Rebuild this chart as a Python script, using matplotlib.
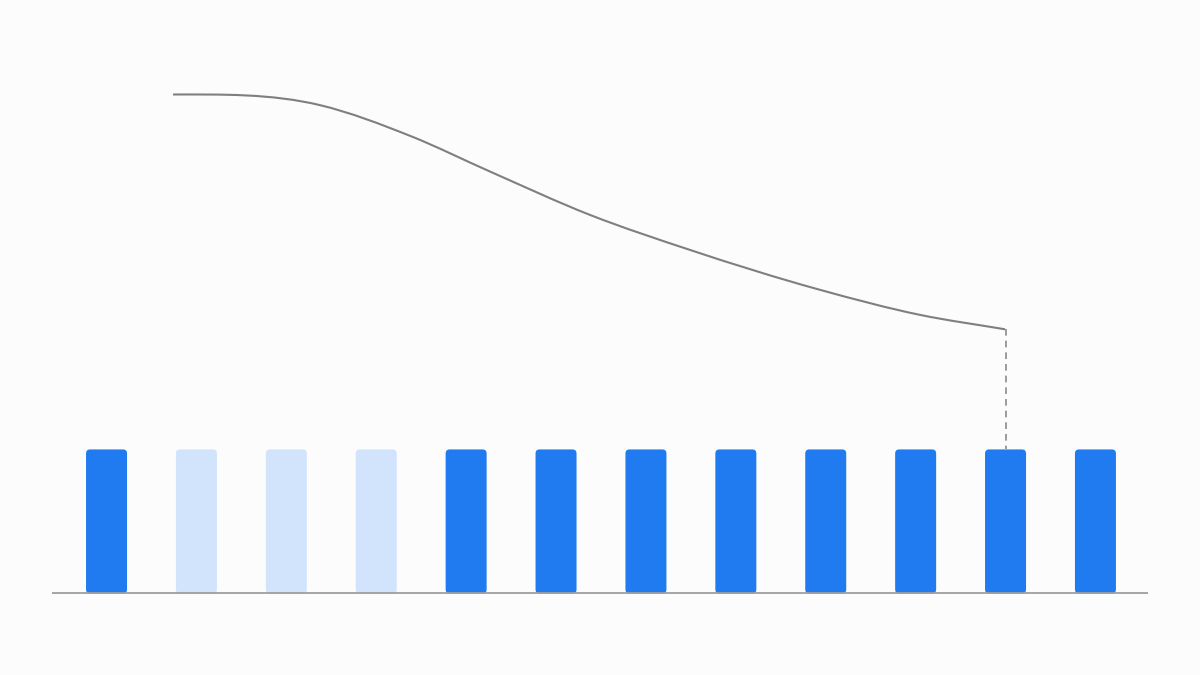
import matplotlib
matplotlib.use("Agg")
import numpy as np
import matplotlib.pyplot as plt
from matplotlib.patches import FancyBboxPatch, PathPatch
from matplotlib.path import Path

# 12 bars, same height; the three after the first are faded
bar_pos = list(range(12))
bar_height = [1.0] * 12
faded = [False, True, True, True, False, False, False, False, False, False, False, False]

# curve (x in bar-index units, y in bar-height units)
curve_x = [0.74, 2.375, 3.376, 4.266, 5.378, 6.49, 7.936, 9.049, 9.994]
curve_y = [3.464, 3.39, 3.177, 2.929, 2.628, 2.385, 2.108, 1.934, 1.834]
marker_bar = 10

blue = "#1F7BEF"
light = "#D2E3FC"
bg = "#FCFCFC"


def smooth_path(xs, ys):
    # cubic hermite through the points (drawn as beziers), flat at the start
    x = np.asarray(xs, float)
    y = np.asarray(ys, float)
    h = np.diff(x)
    s = np.diff(y) / h
    m = np.empty_like(x)
    m[0] = 0.0
    m[-1] = s[-1]
    m[1:-1] = (h[1:] * s[:-1] + h[:-1] * s[1:]) / (h[:-1] + h[1:])
    verts = [(x[0], y[0])]
    codes = [Path.MOVETO]
    for i in range(len(x) - 1):
        d = h[i] / 3
        verts += [(x[i] + d, y[i] + m[i] * d),
                  (x[i + 1] - d, y[i + 1] - m[i + 1] * d),
                  (x[i + 1], y[i + 1])]
        codes += [Path.CURVE4] * 3
    return Path(verts, codes)


fig = plt.figure(figsize=(12, 6.75), dpi=100, facecolor=bg)
ax = fig.add_axes([0, 0, 1, 1])
ax.set_facecolor(bg)
ax.set_xlim(-1.185, 12.163)
ax.set_ylim(-0.566, 4.12)
ax.axis("off")

bars = ax.bar(bar_pos, bar_height, width=0.456, color="none")
for b, f in zip(bars, faded):
    x, y = b.get_x(), b.get_y()
    w, h = b.get_width(), b.get_height()
    b.remove()
    p = FancyBboxPatch((x, y), w, h,
                       boxstyle="round,pad=0,rounding_size=0.045",
                       mutation_aspect=0.625,
                       facecolor=light if f else blue, edgecolor="none", zorder=2)
    ax.add_patch(p)

# baseline
ax.plot([-0.606, 11.585], [0, 0], color="#9E9E9E", lw=1.3, zorder=3, solid_capstyle="butt")

# curve
ax.add_patch(PathPatch(smooth_path(curve_x, curve_y), facecolor="none",
                       edgecolor="#7F7F7F", lw=1.5, zorder=3))

# dashed drop line to the marked bar
ax.plot([bar_pos[marker_bar], bar_pos[marker_bar]], [curve_y[-1], bar_height[marker_bar]],
        color="#8A8A8A", lw=1.2, ls=(0, (4, 3)), zorder=3)

fig.savefig("out.png", dpi=100, facecolor=bg)
